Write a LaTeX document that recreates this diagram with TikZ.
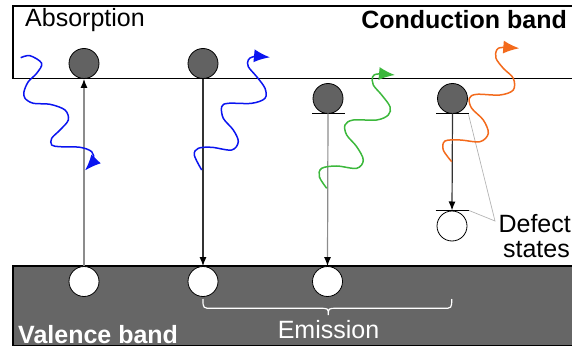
\documentclass[tikz,border=0pt]{standalone}
\usepackage{fontspec}
\setmainfont{Liberation Sans}
\usetikzlibrary{arrows.meta}
\definecolor{bandgray}{HTML}{666666}
\definecolor{elecgray}{HTML}{626262}
\definecolor{wblue}{HTML}{0A14F0}
\definecolor{wgreen}{HTML}{3CB83C}
\definecolor{worange}{HTML}{F36A1C}
\definecolor{linegray}{HTML}{8C8C8C}
\definecolor{darkline}{HTML}{333333}
\definecolor{thingray}{HTML}{B4B4B4}
\tikzset{
  band/.style={draw=black, line width=1.5pt},
  electron/.style={circle, draw=black, line width=0.8pt, fill=elecgray, minimum size=30pt, inner sep=0pt},
  hole/.style={circle, draw=black, line width=0.8pt, fill=white, minimum size=30pt, inner sep=0pt},
  level/.style={draw=black, line width=1.5pt},
  grayarrow/.style={draw=linegray, line width=1.2pt, -{Latex[length=9pt,width=7pt,black]}},
  darkarrow/.style={draw=darkline, line width=1.2pt, -{Latex[length=9pt,width=7pt,black]}},
  photon/.style={line width=1.5pt, -{Latex[length=16pt,width=13pt]}},
  lbl/.style={font=\fontsize{25}{25}\selectfont, inner sep=0pt},
  pointer/.style={draw=thingray, line width=0.7pt},
}
\begin{document}
\begin{tikzpicture}[x=1pt,y=-1pt]
\useasboundingbox (0,0) rectangle (572,347);
% bands
\draw[band, fill=white] (13,6) rectangle (576,78.3);
\draw[band, fill=bandgray] (13,266) rectangle (576,345.5);
% labels
\node[lbl, anchor=base west] (absorption) at (25,27) {Absorption};
\node[lbl, anchor=base east, font=\fontsize{25}{25}\selectfont\bfseries] (cband) at (567,29) {Conduction band};
\node[lbl, anchor=base west, text=white, font=\fontsize{25}{25}\selectfont\bfseries] (vband) at (18,343) {Valence band};
\node[lbl, anchor=base, text=white] (emission) at (328.5,338) {Emission};
\node[lbl, anchor=base east] (defect) at (571,233) {Defect};
\node[lbl, anchor=base east] (states) at (570,257) {states};
% electrons
\node[electron] (e1) at (84,63.5) {};
\node[electron] (e2) at (203,63.5) {};
\node[electron] (e3) at (328,98.5) {};
\node[electron] (e4) at (452.5,98.5) {};
% holes
\node[hole] (h1) at (84,281.5) {};
\node[hole] (h2) at (203,281.5) {};
\node[hole] (h3) at (327.5,281.5) {};
\node[hole] (h4) at (452,226) {};
% defect levels
\coordinate (l3) at (328,113.5);
\coordinate (l4) at (452.5,113.5);
\coordinate (l5) at (452,210.5);
\draw[level] (312,113.5) -- (344.5,113.5);
\draw[level] (436,113.5) -- (469,113.5);
\draw[level] (435.5,210.5) -- (469,210.5);
% pointers to defect states
\coordinate (ptr) at (495,221);
\draw[pointer] (468.5,114.5) -- (ptr) -- (469,210.5);
% transitions
\draw[grayarrow] (h1.north) -- (e1.south);
\draw[darkarrow] (e2.south) -- (h2.north);
\draw[grayarrow] (l3) -- (h3.north);
\draw[darkarrow] (l4) -- (l5);
% photons
\draw[photon, wblue] plot[smooth, tension=0.55] coordinates {
 (20.7,57.7) (30,55.7) (41.7,63.3) (36.7,73.3) (28.3,81.7) (24,91.7) (25,98.3) (33.3,103.3) (50,104.3) (65,110) (68.3,120) (60,130) (51.7,138.3) (51.7,145) (60,146.7) (80,147.3) (91.7,151.7) (93.3,160) (85,170.5)};
\draw[photon, wblue] plot[smooth, tension=0.55] coordinates {
 (201.7,170) (194.3,155) (198.3,148.3) (211.7,147.3) (231.7,150) (238.3,141.7) (233.3,130) (223.3,118.3) (221.7,106.7) (228.3,103.3) (251.7,103.3) (265,98.3) (265,88.3) (256.7,76.7) (248.3,66.7) (248.3,60) (254,56.5) (270,57.3)};
\draw[photon, wgreen] plot[smooth, tension=0.55] coordinates {
 (326.7,188.3) (319.3,176.7) (321.7,168.3) (336.7,166) (356.7,168.3) (363.3,160) (356.7,146.7) (346.7,135) (345,125) (353.3,120) (376.7,120) (388.3,115) (390,106.7) (381.7,95) (373.3,85) (372.7,76.7) (378,74) (395,75)};
\draw[photon, worange] plot[smooth, tension=0.55] coordinates {
 (451.7,161.7) (443.3,150) (445,141) (460,140) (480,141.7) (488.3,133.3) (483.3,120) (471.7,108.3) (469.3,98.3) (476.7,94.3) (500,95) (513.3,90) (513.3,78.3) (503.3,68.3) (496,58.3) (496.7,50) (502,47.5) (519.3,48.3)};
% emission brace
\draw[white, line width=1.2pt] (h2.south |- 0,299) .. controls (203,308.3) .. (212,308.3) -- (319.5,308.3) .. controls (328.3,308.3) .. (328.3,315) .. controls (328.3,308.3) .. (337,308.3) -- (443,308.3) .. controls (451.7,308.3) .. (451.7,299);
\end{tikzpicture}
\end{document}
